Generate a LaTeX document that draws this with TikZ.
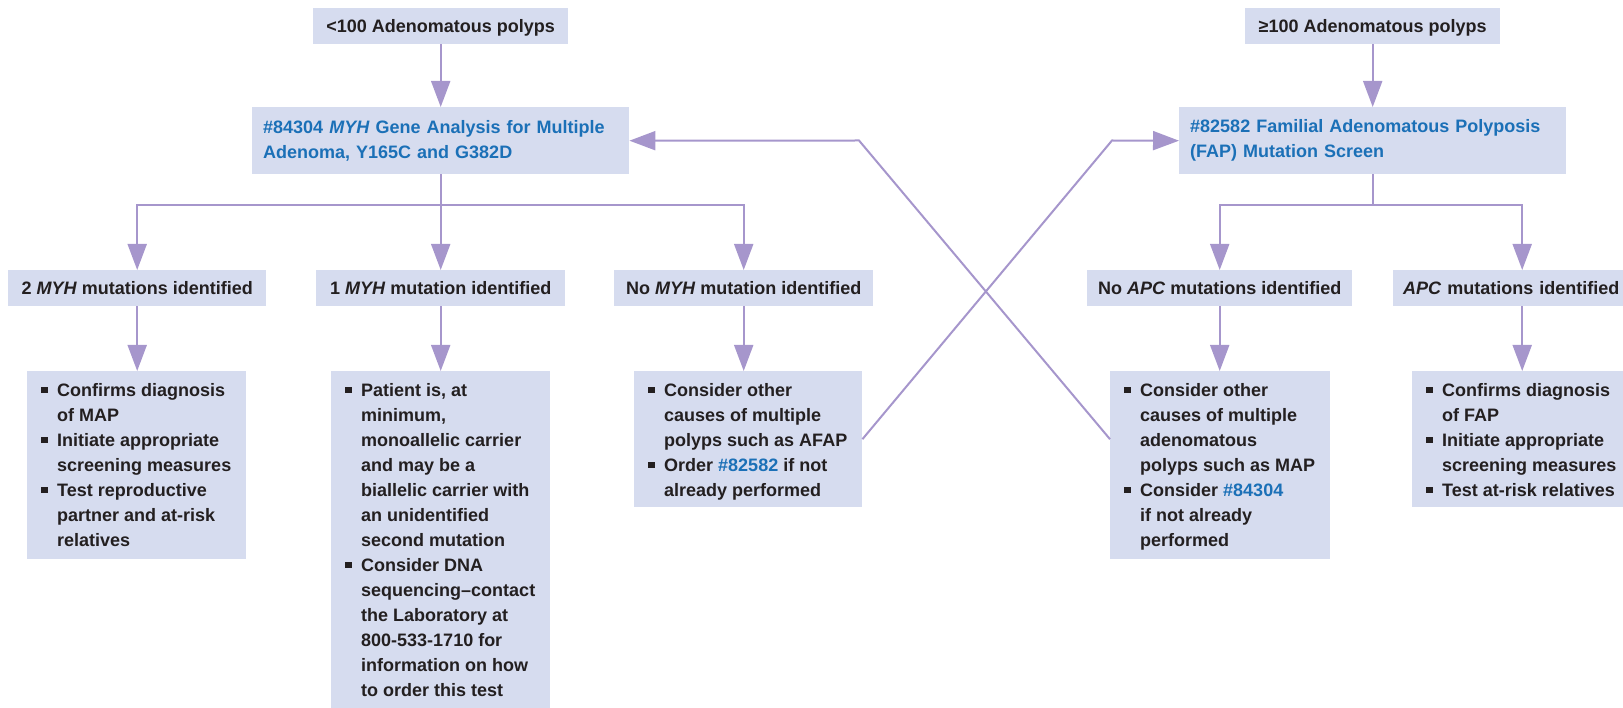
\documentclass[tikz,border=0pt]{standalone}
\usepackage{fontspec}
\setmainfont{Liberation Sans}
\usetikzlibrary{arrows.meta,calc}
\definecolor{boxfill}{RGB}{214,220,239}
\definecolor{arrowc}{RGB}{166,150,204}
\definecolor{txt}{RGB}{35,31,32}
\definecolor{blu}{RGB}{27,112,183}
\newcommand\fs{\fontsize{18}{25}\selectfont\bfseries}
\newcommand\bul{\textcolor{txt}{\rule[3pt]{6.5pt}{6.5pt}}}
\newcommand\lk[1]{\textcolor{blu}{#1}}
\newenvironment{bl}{\begin{tabular}{@{}l@{\hspace{9.5pt}}l@{}}}{\end{tabular}}
\begin{document}
\begin{tikzpicture}[x=1pt,y=-1pt,
  box/.style={fill=boxfill, draw=none, inner sep=0pt, anchor=north west, font=\fs, text=txt},
  onebox/.style={box, minimum height=36pt, text height=12.9pt, text depth=0pt},
  testbox/.style={box, minimum height=67pt, text=blu, align=left, inner xsep=11pt},
  listtext/.style={anchor=north west, inner sep=0pt, font=\fs, text=txt},
  conn/.style={draw=arrowc, line width=2pt},
  arr/.style={conn, -{Triangle[length=26pt,width=19pt]}},
]
\useasboundingbox (0,0) rectangle (1623,708);

% top boxes
\node[onebox, minimum width=255pt] (t1) at (313,8) {<100 Adenomatous polyps};
\node[onebox, minimum width=255pt] (t2) at (1245,8) {≥100 Adenomatous polyps};

% test boxes
\node[testbox, text width=355pt] (myh) at (252,107) {\#84304 \textit{MYH} Gene Analysis for Multiple\\Adenoma, Y165C and G382D};
\node[testbox, text width=365pt] (fap) at (1179,107) {\#82582 Familial Adenomatous Polyposis\\(FAP) Mutation Screen};

% result boxes
\node[onebox, minimum width=258pt] (m2) at (8,270) {2 \textit{MYH} mutations identified};
\node[onebox, minimum width=249pt] (m1) at (316,270) {1 \textit{MYH} mutation identified};
\node[onebox, minimum width=259pt] (m0) at (614,270) {No \textit{MYH} mutation identified};
\node[onebox, minimum width=265pt] (a0) at (1087,270) {No \textit{APC} mutations identified};
\node[onebox, text width=238pt, align=left, inner xsep=10pt] (a1) at (1393,270) {\textit{APC} mutations identified};

% list boxes
\node[box, minimum width=219pt, minimum height=188pt] (b1) at (27,371) {};
\node[box, minimum width=219pt, minimum height=337pt] (b2) at (331,371) {};
\node[box, minimum width=228pt, minimum height=136pt] (b3) at (634,371) {};
\node[box, minimum width=220pt, minimum height=188pt] (b4) at (1110,371) {};
\node[box, minimum width=220pt, minimum height=136pt] (b5) at (1412,371) {};

\node[listtext] (b1t) at ($(b1.north west)+(14,7.5)$) {\begin{bl}
\bul & Confirms diagnosis\\
 & of MAP\\
\bul & Initiate appropriate\\
 & screening measures\\
\bul & Test reproductive\\
 & partner and at-risk\\
 & relatives
\end{bl}};
\node[listtext] (b2t) at ($(b2.north west)+(14,7.5)$) {\begin{bl}
\bul & Patient is, at\\
 & minimum,\\
 & monoallelic carrier\\
 & and may be a\\
 & biallelic carrier with\\
 & an unidentified\\
 & second mutation\\
\bul & Consider DNA\\
 & sequencing–contact\\
 & the Laboratory at\\
 & 800-533-1710 for\\
 & information on how\\
 & to order this test
\end{bl}};
\node[listtext] (b3t) at ($(b3.north west)+(14,7.5)$) {\begin{bl}
\bul & Consider other\\
 & causes of multiple\\
 & polyps such as AFAP\\
\bul & Order \lk{\#82582} if not\\
 & already performed
\end{bl}};
\node[listtext] (b4t) at ($(b4.north west)+(14,7.5)$) {\begin{bl}
\bul & Consider other\\
 & causes of multiple\\
 & adenomatous\\
 & polyps such as MAP\\
\bul & Consider \lk{\#84304}\\
 & if not already\\
 & performed
\end{bl}};
\node[listtext] (b5t) at ($(b5.north west)+(14,7.5)$) {\begin{bl}
\bul & Confirms diagnosis\\
 & of FAP\\
\bul & Initiate appropriate\\
 & screening measures\\
\bul & Test at-risk relatives
\end{bl}};

% connectors
\draw[arr] (t1.south) -- (myh.north);
\draw[arr] (t2.south) -- (fap.north);

\coordinate (jl) at (441,205);
\coordinate (jr) at (1372.5,205);
\draw[conn] (myh.south) -- (myh.south |- jl);
\draw[arr] (myh.south |- jl) -| (m2.north);
\draw[arr] (myh.south |- jl) -| (m0.north);
\draw[arr] (myh.south) -- (m1.north);
\draw[conn] (fap.south) -- (fap.south |- jr);
\draw[arr] (fap.south |- jr) -| (a0.north);
\draw[arr] (fap.south |- jr) -| (a1.north);

\draw[arr] (m2.south) -- (m2.south |- b1.north);
\draw[arr] (m1.south) -- (m1.south |- b2.north);
\draw[arr] (m0.south) -- (m0.south |- b3.north);
\draw[arr] (a0.south) -- (a0.south |- b4.north);
\draw[arr] (a1.south) -- (a1.south |- b5.north);

\coordinate (k2) at (1112,140.5);
\coordinate (k1) at (859,140.5);
\draw[arr] (b3.east) -- (k2) -- (fap.west);
\draw[arr] (b4.west |- b3.east) -- (k1) -- (myh.east);
\end{tikzpicture}
\end{document}
